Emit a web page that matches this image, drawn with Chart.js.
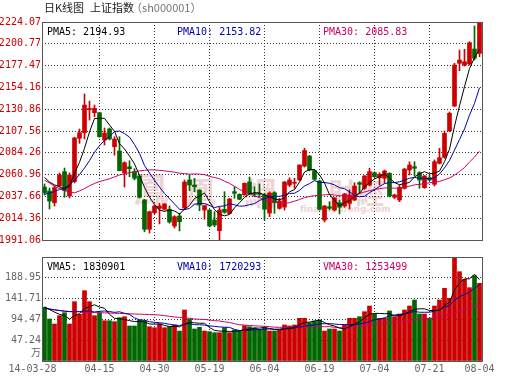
<!DOCTYPE html>
<html><head><meta charset="utf-8">
<script src="https://cdn.jsdelivr.net/npm/chart.js@4.4.1/dist/chart.umd.min.js"></script>
<style>
html,body{margin:0;padding:0;background:#fff;}
body{width:530px;height:391px;overflow:hidden;position:relative;font-family:"DejaVu Sans Mono",monospace;}
canvas{position:absolute;left:0;z-index:1;}
#c1{top:0;}
#c2{top:250px;}
.t{position:absolute;white-space:pre;font-size:10px;line-height:12px;z-index:2;}
.cjk{font-family:"Noto Sans CJK SC",sans-serif;font-size:11px;line-height:13px;color:#222;}
.wm{position:absolute;white-space:pre;z-index:0;color:#eed4d4;font-family:"Noto Sans CJK TC",sans-serif;font-weight:bold;}
</style></head><body>
<div class="t cjk" style="left:44px;top:1px;">日K线图</div>
<div class="t cjk" style="left:90px;top:1px;">上证指数</div>
<div class="t cjk" style="left:131px;top:1px;color:#777;">（sh000001）</div>
<div class="wm" style="left:134px;top:168px;font-size:34px;line-height:40px;">鳳</div>
<div class="wm" style="left:186px;top:172px;font-size:30px;line-height:36px;">凰</div>
<div class="wm" style="left:244px;top:172px;font-size:32px;line-height:38px;">網</div>
<div class="wm" style="left:328px;top:176px;font-size:28px;line-height:32px;">財經</div>
<div class="wm" style="left:300px;top:204px;font-size:9px;line-height:10px;font-family:'DejaVu Sans';">finance.ifeng.com</div>
<canvas id="c1" width="530" height="250" style="width:530px;height:250px"></canvas>
<canvas id="c2" width="530" height="141" style="width:530px;height:141px"></canvas>
<div class="t" id="l1" style="left:47px;top:26px;color:#000"></div>
<div class="t" id="l2" style="left:177px;top:26px;color:#0000aa"></div>
<div class="t" id="l3" style="left:323px;top:26px;color:#cc0066"></div>
<div class="t" id="l4" style="left:47px;top:261px;color:#000"></div>
<div class="t" id="l5" style="left:177px;top:261px;color:#0000aa"></div>
<div class="t" id="l6" style="left:323px;top:261px;color:#cc0066"></div>
<div class="t cjk" style="left:31px;top:345px;font-size:10px;color:#666;">万</div>
<script>
const dates = ['03-28','03-31','04-01','04-02','04-03','04-04','04-08','04-09','04-10','04-11','04-14','04-15','04-16','04-17','04-18','04-21','04-22','04-23','04-24','04-25','04-28','04-29','04-30','05-05','05-06','05-07','05-08','05-09','05-12','05-13','05-14','05-15','05-16','05-19','05-20','05-21','05-22','05-23','05-26','05-27','05-28','05-29','05-30','06-03','06-04','06-05','06-06','06-09','06-10','06-11','06-12','06-13','06-16','06-17','06-18','06-19','06-20','06-23','06-24','06-25','06-26','06-27','06-30','07-01','07-02','07-03','07-04','07-07','07-08','07-09','07-10','07-11','07-14','07-15','07-16','07-17','07-18','07-21','07-22','07-23','07-24','07-25','07-28','07-29','07-30','07-31','08-01','08-04'];

const opens = [2047.7,2043.4,2030.9,2048.8,2064.1,2038.1,2053.4,2099.8,2105.7,2130.5,
2127.1,2127.1,2097.9,2109.7,2090.8,2086.2,2063.0,2069.4,2064.1,2059.5,
2033.8,2002.5,2020.2,2024.9,2023.9,2023.9,2006.0,2016.7,2025.3,2055.2,
2049.8,2044.5,2023.1,2023.1,2012.4,2001.0,2023.9,2019.4,2042.7,2039.9,
2039.2,2053.1,2040.6,2041.0,2039.2,2019.9,2041.6,2024.9,2026.3,2049.8,
2051.7,2055.2,2070.1,2080.8,2065.3,2054.1,2012.4,2026.7,2023.1,2030.9,
2027.4,2030.3,2033.8,2052.3,2046.3,2049.8,2063.0,2057.6,2057.0,2062.3,
2036.7,2033.8,2046.3,2065.9,2069.4,2063.0,2047.0,2057.6,2050.6,2073.0,
2079.4,2107.9,2134.3,2179.9,2178.1,2179.2,2195.2,2190.6];
const highs = [2050.9,2046.6,2048.8,2062.7,2068.0,2062.7,2101.0,2109.7,2147.1,2139.6,
2135.3,2127.5,2110.8,2110.8,2101.5,2101.5,2074.7,2075.8,2067.3,2060.5,
2034.5,2022.0,2028.0,2030.3,2030.0,2027.4,2017.0,2019.6,2055.2,2060.5,
2057.0,2044.8,2028.0,2023.5,2021.3,2026.0,2042.7,2035.5,2048.0,2040.5,
2052.0,2058.4,2048.0,2050.9,2041.0,2042.7,2042.7,2035.6,2053.5,2057.6,
2057.0,2071.5,2089.1,2081.5,2066.0,2055.0,2028.0,2032.0,2036.5,2033.8,
2041.0,2044.5,2052.3,2053.4,2060.0,2067.7,2064.0,2063.0,2065.9,2063.0,
2040.0,2049.8,2067.5,2074.7,2074.7,2064.1,2060.0,2060.5,2076.6,2089.1,
2107.6,2127.9,2179.9,2194.1,2194.9,2203.0,2219.8,2224.07];
const lows = [2039.2,2024.2,2027.4,2047.7,2036.7,2036.0,2052.0,2094.4,2099.0,2119.3,
2122.8,2100.8,2092.6,2098.0,2081.8,2065.0,2047.7,2058.7,2055.2,2036.0,
1999.9,1998.5,2019.0,2008.2,2023.0,2009.0,2003.9,2000.7,2024.5,2043.8,
2042.7,2022.4,2013.2,2005.0,2005.3,1991.06,2019.6,2019.0,2035.6,2034.0,
2039.0,2039.5,2037.3,2037.3,2012.4,2016.0,2019.6,2024.0,2023.1,2048.0,
2046.3,2055.0,2069.0,2065.0,2055.0,2023.0,2010.3,2023.1,2022.0,2018.9,
2026.0,2024.2,2033.0,2041.0,2045.0,2048.8,2058.0,2049.8,2051.7,2037.0,
2035.0,2032.0,2045.5,2060.5,2059.5,2046.3,2046.3,2054.4,2048.8,2072.3,
2078.4,2106.8,2133.5,2172.0,2177.0,2178.1,2183.4,2187.0];
const closes = [2041.6,2032.7,2047.0,2060.5,2043.8,2060.5,2100.1,2105.7,2135.3,2131.6,
2131.8,2101.5,2105.4,2099.0,2099.0,2065.1,2073.7,2067.3,2057.0,2036.7,
2002.5,2021.3,2027.4,2027.4,2029.5,2010.3,2016.0,2010.6,2053.0,2049.8,
2048.0,2028.5,2027.7,2006.0,2007.1,2023.1,2020.7,2034.9,2041.0,2034.6,
2051.7,2040.8,2039.8,2040.0,2023.9,2041.3,2030.9,2032.7,2053.1,2055.2,
2052.5,2071.2,2086.7,2065.9,2055.9,2023.9,2027.4,2024.9,2035.9,2026.0,
2040.2,2039.2,2048.8,2050.6,2059.5,2064.1,2058.7,2061.3,2064.8,2038.1,
2039.2,2047.4,2066.9,2071.2,2067.7,2055.2,2059.5,2055.2,2074.7,2079.0,
2105.1,2126.5,2178.1,2183.4,2181.6,2201.9,2185.3,2223.7];

const ma5 = [2058,2053,2050,2048,2045.1,2048.9,2062.4,2074.1,2089.1,2106.6,
2120.9,2121.2,2121.1,2113.9,2107.3,2094.0,2088.4,2080.8,2072.4,2060.0,
2047.4,2037.0,2029.0,2023.1,2021.6,2023.2,2022.1,2018.8,2023.9,2027.9,
2035.5,2038.0,2041.4,2032.0,2023.5,2018.5,2016.9,2018.4,2025.4,2030.9,
2036.6,2040.6,2041.6,2041.4,2039.2,2037.2,2035.2,2033.8,2036.4,2042.6,
2044.9,2052.9,2063.7,2066.3,2066.4,2060.7,2052.0,2039.6,2033.6,2027.6,
2030.9,2033.2,2038.0,2041.0,2047.7,2052.4,2056.3,2058.8,2061.7,2057.4,
2052.4,2050.2,2051.3,2052.6,2058.5,2061.7,2064.1,2061.8,2062.5,2064.7,
2074.7,2088.1,2112.7,2134.4,2154.9,2174.3,2186.1,2194.93];
const ma10 = [2040,2041,2043,2045,2047,2050,2055,2061,2068,2075.9,
2084.9,2091.8,2097.6,2101.5,2107.0,2107.5,2104.8,2101.0,2093.1,2083.7,
2070.7,2062.7,2054.9,2047.7,2040.8,2035.3,2029.5,2023.9,2023.5,2024.8,
2029.3,2030.1,2030.1,2027.9,2025.7,2027.0,2027.5,2029.9,2028.7,2027.2,
2027.5,2028.8,2030.0,2033.4,2035.1,2036.9,2037.9,2037.7,2038.9,2040.9,
2041.0,2044.1,2048.8,2051.3,2054.5,2052.8,2052.5,2051.7,2050.0,2047.0,
2045.8,2042.6,2038.8,2037.3,2037.6,2041.7,2044.8,2048.4,2051.3,2052.5,
2052.4,2053.3,2055.1,2057.1,2057.9,2057.1,2057.1,2056.5,2057.5,2061.6,
2068.2,2076.1,2087.2,2098.4,2109.8,2124.5,2137.1,2153.82];
const ma30 = [2055,2052,2048.5,2046,2044,2042,2041.5,2043.5,2046,2049,
2051.5,2053.5,2055,2056.5,2058.5,2060.5,2062,2063,2064,2065,
2065.5,2066,2066,2065.5,2065,2064.3,2063.5,2062.5,2062,2061.4,
2061.7,2061.5,2060.9,2059.1,2057.8,2056.6,2053.9,2051.6,2048.4,2045.2,
2042.5,2040.5,2038.3,2036.4,2033.8,2033.1,2031.6,2030.5,2030.3,2031.0,
2032.6,2034.3,2036.3,2037.6,2038.4,2038.9,2039.3,2039.7,2039.2,2038.4,
2038.1,2038.5,2039.2,2040.7,2042.4,2043.8,2045.0,2045.9,2046.7,2046.8,
2046.4,2046.6,2047.5,2048.6,2050.0,2050.5,2051.5,2052.2,2052.9,2053.7,
2055.5,2057.3,2060.4,2064.3,2068.5,2074.4,2079.7,2085.83];

const volumes = [122.0,95.4,84.0,102.9,109.7,84.0,134.7,106.0,159.7,134.7,
102.9,109.7,91.5,91.5,89.3,98.3,100.6,79.5,79.5,93.1,
91.5,77.9,75.6,84.0,75.6,77.9,81.8,68.0,115.8,95.4,
72.7,76.5,68.1,66.6,64.3,64.3,75.6,64.3,70.4,68.1,
80.2,77.9,75.6,71.9,75.6,68.1,68.1,70.4,81.8,79.5,
81.8,96.9,96.9,87.0,90.8,93.1,68.1,72.7,72.7,68.1,
81.8,96.9,96.9,100.6,112.0,124.9,106.0,96.9,96.9,113.6,
100.6,106.7,115.8,124.9,138.5,106.7,106.7,96.9,124.9,138.5,
165.1,142.4,236.19,202.8,185.5,166.5,193.7,176.5];
const vma5 = [123,117,111,106,102.8,95.2,103.1,107.5,118.8,123.8,
127.6,122.6,119.7,106.1,97.0,96.1,94.2,91.8,89.4,90.2,
88.8,84.3,83.5,84.4,80.9,78.2,79.0,77.5,83.8,87.8,
86.7,85.7,85.7,75.9,69.6,68.0,67.8,67.0,67.8,68.5,
71.7,72.2,74.4,74.7,76.2,73.8,71.9,70.8,72.8,73.6,
76.3,82.1,87.4,88.4,90.7,92.9,87.2,82.3,79.5,74.9,
72.7,78.4,83.3,88.9,97.6,106.3,108.1,108.1,107.3,107.7,
102.8,102.9,106.7,112.3,117.3,118.5,118.5,114.7,114.7,114.7,
126.4,133.6,161.4,177.0,186.4,186.7,196.9,185.0];
const vma10 = [120,118,116,114.5,113,112,112,112.5,113,113.3,
111.4,112.8,113.6,112.4,110.4,111.8,108.4,105.8,97.8,93.6,
92.5,89.3,87.7,86.9,85.6,83.5,81.6,80.5,84.1,84.4,
82.5,82.3,81.6,79.8,78.7,77.4,76.7,76.4,71.8,69.1,
69.8,70.0,70.7,71.3,72.4,72.8,72.0,72.6,73.8,74.9,
75.1,77.0,79.1,80.6,82.1,84.6,84.6,84.9,84.0,82.8,
82.8,82.8,82.8,84.2,86.3,89.5,93.3,95.7,98.1,102.7,
104.5,105.5,107.4,109.8,112.5,110.7,110.7,110.7,113.5,116.0,
122.5,126.0,138.1,145.9,150.6,156.6,165.3,173.2];
const vma30 = [119.5,118,116.5,115,113.5,112.5,112,111.5,111,110.5,
110,109.7,109.3,109,108.5,108,107.6,107.2,106.7,106.3,
106,105.6,105,104.5,103,101.5,100,99,98,97.1,
95.4,94.8,94.3,93.1,91.6,90.9,88.9,87.5,84.6,82.3,
81.6,80.5,80.0,79.3,78.9,77.9,76.8,76.5,76.6,76.1,
75.8,76.4,77.1,77.2,77.7,78.3,77.8,78.0,76.5,75.6,
75.9,76.6,77.5,78.7,80.3,82.3,83.3,84.4,85.3,86.8,
87.5,88.4,89.8,91.5,93.6,94.9,96.2,97.1,98.5,100.5,
103.3,104.8,109.4,113.3,116.4,118.9,123.1,126.5];

const priceTicks = [1991.06,2014.36,2037.66,2060.96,2084.26,2107.56,2130.86,2154.16,2177.47,2200.77,2224.07];
const volTicks = [0,47.24,94.47,141.71,188.95,236.19];
const tickDates = ['03-28','04-15','04-30','05-19','06-04','06-19','07-04','07-21','08-04'];
const tickLabels = ['14-03-28','04-15','04-30','05-19','06-04','06-19','07-04','07-21','08-04'];
const legendMain = ['PMA5: 2194.93','PMA10: 2153.82','PMA30: 2085.83'];
const legendVol = ['VMA5: 1830901','VMA10: 1720293','VMA30: 1253499'];

['l1','l2','l3'].forEach((id,i)=>document.getElementById(id).textContent=legendMain[i]);
['l4','l5','l6'].forEach((id,i)=>document.getElementById(id).textContent=legendVol[i]);

const UP='#cc0000', DOWN='#006600';
const colors = closes.map((c,i)=> c>=opens[i]?UP:DOWN);
const gridIdx = tickDates.slice(1,-1).map(d=>dates.indexOf(d));
const labelIdx = tickDates.map(d=>dates.indexOf(d));
const GRID='#333';
const TR='rgba(0,0,0,0)';

const frame = {id:'frame', afterDraw(chart){
  const {ctx, chartArea:a} = chart;
  ctx.save(); ctx.strokeStyle='#555'; ctx.lineWidth=1;
  ctx.strokeRect(Math.round(a.left)+0.5, Math.round(a.top)+0.5, Math.round(a.right-a.left), Math.round(a.bottom-a.top));
  ctx.restore();
}};

const lineDs = (data,color)=>({type:'line', data, borderColor:color, borderWidth:1, pointRadius:0, tension:0, order:0, fill:false});
const font = {family:'DejaVu Sans Mono', size:10};

new Chart(document.getElementById('c1'), {
  data:{labels:dates, datasets:[
    lineDs(ma5,'#000000'), lineDs(ma10,'#0000aa'), lineDs(ma30,'#cc0066'),
    {type:'bar', data:lows.map((l,i)=>[l,highs[i]]), backgroundColor:colors, barThickness:1, grouped:false, order:2},
    {type:'bar', data:opens.map((o,i)=>[o,closes[i]]), backgroundColor:colors, barThickness:4, grouped:false, order:1, minBarLength:1}
  ]},
  options:{responsive:false, animation:false, events:[],
    plugins:{legend:{display:false}, tooltip:{enabled:false}},
    layout:{padding:{top:22,right:48,left:0,bottom:0}},
    scales:{
      x:{type:'category', offset:true,
        grid:{offset:false, drawTicks:false, color:c=> gridIdx.includes(c.index)?GRID:TR},
        border:{display:false, dash:[1,2]}, ticks:{display:false}, afterFit:s=>{s.height=10;}},
      y:{min:priceTicks[0], max:priceTicks[priceTicks.length-1],
        afterBuildTicks:s=>{s.ticks=priceTicks.map(v=>({value:v}));},
        ticks:{callback:v=>v.toFixed(2), color:'#cc0000', font, padding:1, autoSkip:false},
        grid:{drawTicks:false, color:c=>(c.index===0||c.index===priceTicks.length-1)?TR:GRID},
        border:{display:false, dash:[1,2]}, afterFit:s=>{s.width=42;}}
    }},
  plugins:[frame]
});

new Chart(document.getElementById('c2'), {
  data:{labels:dates, datasets:[
    lineDs(vma5,'#000000'), lineDs(vma10,'#0000aa'), lineDs(vma30,'#cc0066'),
    {type:'bar', data:volumes, backgroundColor:colors, barThickness:4, grouped:false, order:1}
  ]},
  options:{responsive:false, animation:false, events:[],
    plugins:{legend:{display:false}, tooltip:{enabled:false}},
    layout:{padding:{top:7,right:48,left:0,bottom:0}},
    scales:{
      x:{type:'category', offset:true,
        grid:{offset:false, drawTicks:false, color:c=> gridIdx.includes(c.index)?GRID:TR},
        border:{display:false, dash:[1,2]},
        ticks:{autoSkip:false, maxRotation:0, minRotation:0, padding:2, color:'#666', font,
          callback:(v,i)=>{const k=labelIdx.indexOf(i); if(k<0) return ''; return k===0 ? tickLabels[k]+'    ' : tickLabels[k];}},
        afterFit:s=>{s.height=30;}},
      y:{min:volTicks[0], max:volTicks[volTicks.length-1],
        afterBuildTicks:s=>{s.ticks=volTicks.map(v=>({value:v}));},
        ticks:{callback:(v,i)=>(i===0||i===volTicks.length-1)?'':v.toFixed(2), color:'#666', font, padding:1, autoSkip:false},
        grid:{drawTicks:false, color:c=>(c.index===0||c.index===volTicks.length-1)?TR:GRID},
        border:{display:false, dash:[1,2]}, afterFit:s=>{s.width=42;}}
    }},
  plugins:[frame]
});
</script>
</body></html>
